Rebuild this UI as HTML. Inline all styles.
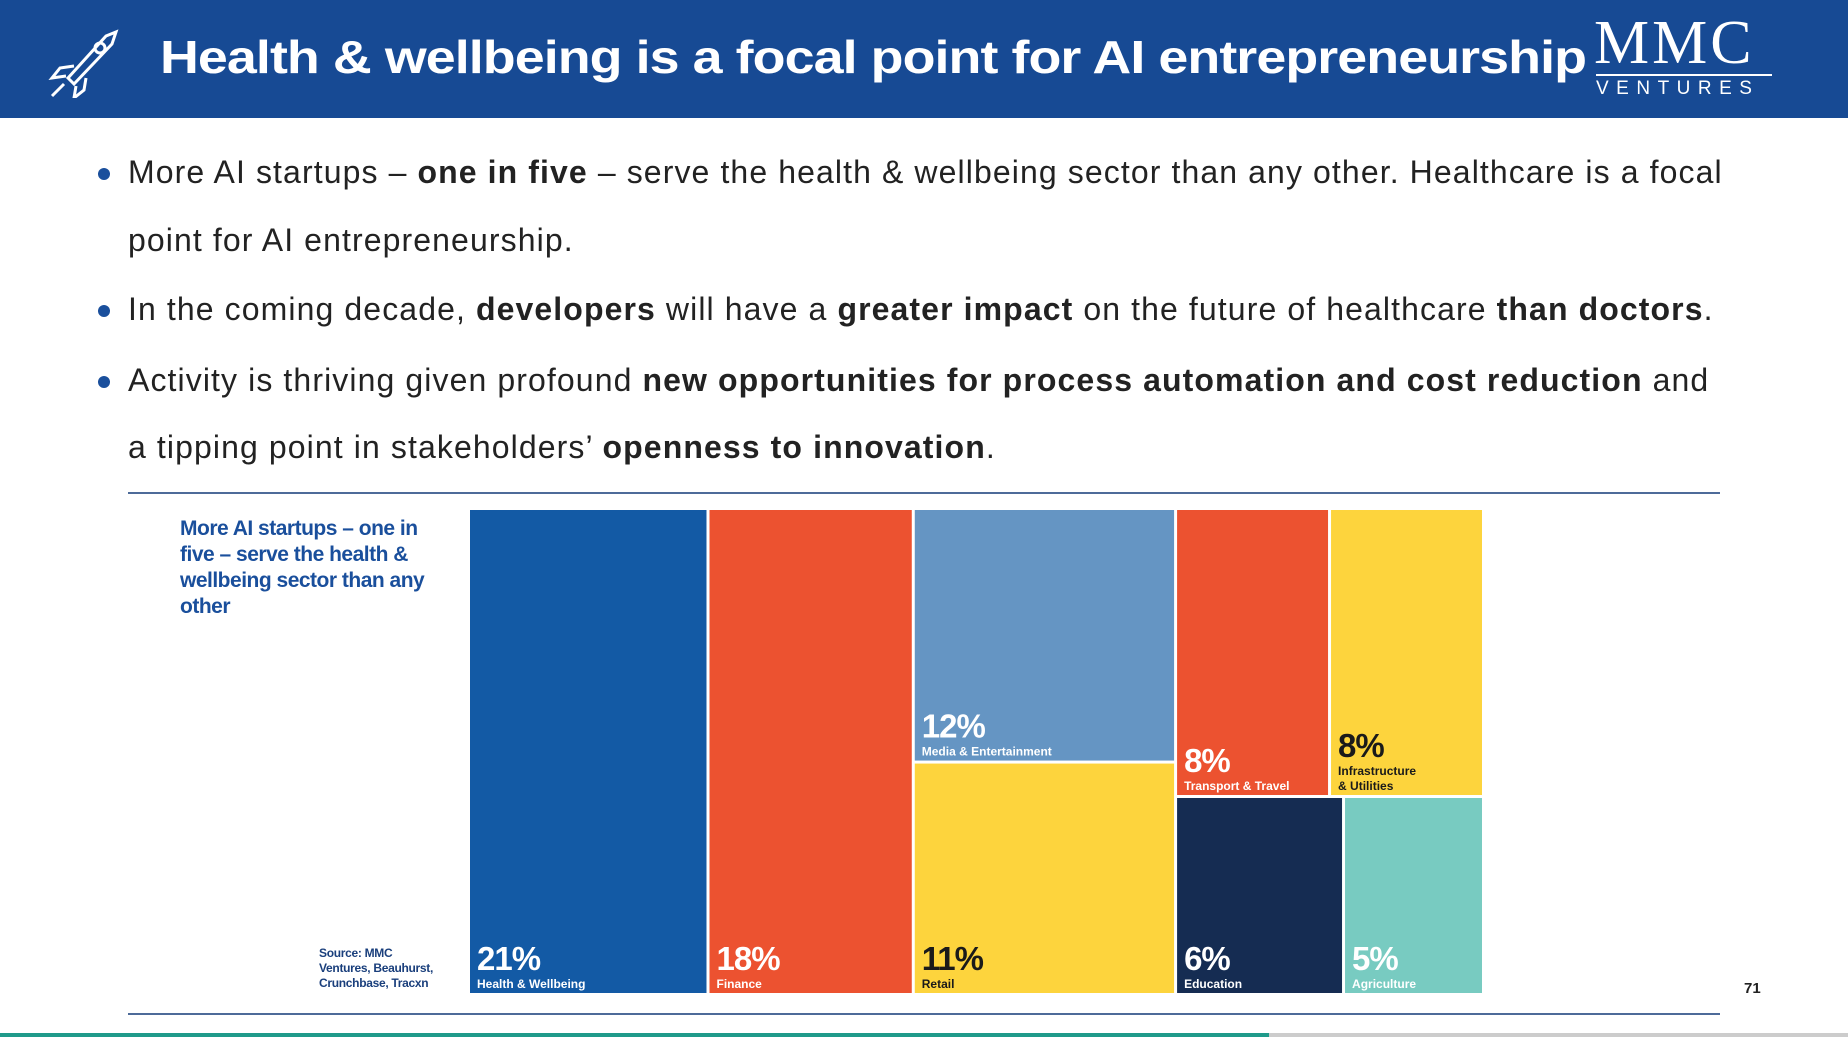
<!DOCTYPE html>
<html><head><meta charset="utf-8"><style>
body{margin:0;width:1848px;height:1037px;overflow:hidden;background:#fff;font-family:"Liberation Sans",sans-serif;position:relative}
.hdr{position:absolute;left:0;top:0;width:1848px;height:118px;background:#174a94}
.title{position:absolute;left:160px;top:30px;color:#fff;font-weight:bold;font-size:46px;letter-spacing:-0.8px;white-space:nowrap;transform:scaleX(1.17);transform-origin:0 0}
.mmc{position:absolute;left:1594px;top:12px;color:#fff;font-family:"Liberation Serif",serif;font-size:62px;letter-spacing:3px;line-height:62px}
.vent{position:absolute;left:1596px;top:78px;color:#fff;font-size:19px;letter-spacing:7.5px}
.vline{position:absolute;left:1596px;top:74px;width:176px;height:2px;background:#fff}
.b{position:absolute;left:128px;font-size:32px;color:#222;white-space:nowrap;letter-spacing:1.1px}
.dot{position:absolute;left:98px;width:12px;height:12px;border-radius:6px;background:#1a4f9c}
.rule{position:absolute;left:128px;width:1592px;height:2px;background:#4d6b99}
.cap{position:absolute;left:180px;top:516px;color:#1a4f9c;font-weight:bold;font-size:21px;line-height:26px;width:268px;letter-spacing:-0.5px}
.src{position:absolute;left:319px;top:946px;color:#1a3f7c;font-weight:bold;font-size:12px;line-height:15px;letter-spacing:-0.3px}
</style></head><body>
<div class="hdr"></div>
<svg style="position:absolute;left:48px;top:28px" width="76" height="70" viewBox="0 0 76 70"><g fill="none" stroke="#fff" stroke-width="3"><path d="M20 50 L58 8 L68 4 L64 16 L26 56 Z"/><circle cx="52" cy="20" r="5"/><path d="M26 38 L12 40 L4 50 L18 48"/><path d="M38 50 L36 62 L26 70 L28 58"/><path d="M16 56 L4 68"/></g></svg>
<div class="title">Health &amp; wellbeing is a focal point for AI entrepreneurship</div>
<div class="mmc">MMC</div>
<div class="vline"></div>
<div class="vent">VENTURES</div>

<div class="dot" style="top:168px"></div>
<div class="b" style="top:154px">More AI startups – <b>one in five</b> – serve the health &amp; wellbeing sector than any other. Healthcare is a focal</div>
<div class="b" style="top:222px">point for AI entrepreneurship.</div>
<div class="dot" style="top:305px"></div>
<div class="b" style="top:291px">In the coming decade, <b>developers</b> will have a <b>greater impact</b> on the future of healthcare <b>than doctors</b>.</div>
<div class="dot" style="top:376px"></div>
<div class="b" style="top:362px">Activity is thriving given profound <b>new opportunities for process automation and cost reduction</b> and</div>
<div class="b" style="top:429px">a tipping point in stakeholders’ <b>openness to innovation</b>.</div>

<div class="rule" style="top:492px"></div>
<div class="rule" style="top:1013px"></div>
<div style="position:absolute;left:0;top:1033px;width:1269px;height:4px;background:#1f9a8a"></div>
<div style="position:absolute;left:1269px;top:1033px;width:579px;height:4px;background:#ccc"></div>

<div class="cap">More AI startups – one in five – serve the health &amp; wellbeing sector than any other</div>
<div class="src">Source: MMC<br>Ventures, Beauhurst,<br>Crunchbase, Tracxn</div>
<div style="position:absolute;left:1744px;top:980px;font-size:15px;font-weight:bold;color:#222">71</div>

<svg id="tm" style="position:absolute;left:0;top:0" width="1848" height="1037"></svg>
<script>
const categories=["Health & Wellbeing","Finance","Media & Entertainment","Retail","Transport & Travel","Infrastructure|& Utilities","Education","Agriculture"];
const values=[21,18,12,11,8,8,6,5];
const valueLabels=["21%","18%","12%","11%","8%","8%","6%","5%"];
const colors=["#135aa5","#ec5230","#6595c3","#fdd43d","#ec5230","#fdd43d","#152c52","#78cbc1"];
const textColors=["#fff","#fff","#fff","#1a1a1a","#fff","#1a1a1a","#fff","#fff"];
const columns=[[[0]],[[1]],[[2],[3]],[[4,5],[6,7]]];
const X0=470,Y0=510,W=1015,H=486,G=3;
const svg=document.getElementById('tm');
const NS='http://www.w3.org/2000/svg';
const total=values.reduce((a,b)=>a+b,0);
const sum=a=>a.reduce((s,i)=>s+values[i],0);
let x=X0;
columns.forEach((col,ci)=>{
  const cs=col.reduce((s,r)=>s+sum(r),0);
  const cw=W*cs/total;
  let y=Y0;
  col.forEach(row=>{
    const rs=sum(row);
    const rh=H*rs/cs;
    let xx=x;
    row.forEach(i=>{
      const w=cw*values[i]/rs;
      const r=document.createElementNS(NS,'rect');
      
      
      r.setAttribute('x',xx);r.setAttribute('y',y);
      r.setAttribute('width',Math.max(0,w-G));r.setAttribute('height',Math.max(0,rh-G));
      r.setAttribute('fill',colors[i]);svg.appendChild(r);
      const lines=categories[i].split('|');
      const bottom=y+rh-G;
      const t=document.createElementNS(NS,'text');
      
      
      t.setAttribute('x',xx+7);t.setAttribute('y',bottom-8-lines.length*15);
      t.setAttribute('font-size','33');t.setAttribute('font-weight','bold');t.setAttribute('fill',textColors[i]);
      t.setAttribute('font-family','Liberation Sans, sans-serif');t.setAttribute('letter-spacing','-1');
      t.textContent=valueLabels[i];svg.appendChild(t);
      lines.forEach((ln,k)=>{
        const s=document.createElementNS(NS,'text');
        
        
        s.setAttribute('x',xx+7);s.setAttribute('y',bottom-5-(lines.length-1-k)*15);
        s.setAttribute('font-size','12');s.setAttribute('font-weight','bold');s.setAttribute('fill',textColors[i]);
        s.setAttribute('font-family','Liberation Sans, sans-serif');
        s.textContent=ln;svg.appendChild(s);
      });
      xx+=w;
    });
    y+=rh;
  });
  x+=cw;
});
</script>
</body></html>
